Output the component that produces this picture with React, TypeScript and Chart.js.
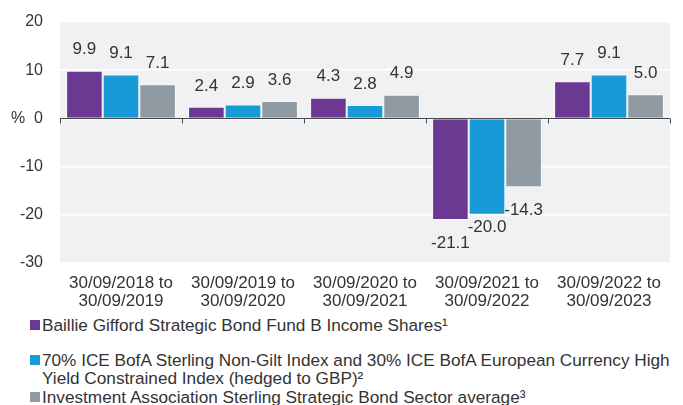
import React, { useEffect, useRef } from "react";
import { Chart, registerables } from "chart.js";

Chart.register(...registerables);

const categories: string[][] = [
  ["30/09/2018 to", "30/09/2019"],
  ["30/09/2019 to", "30/09/2020"],
  ["30/09/2020 to", "30/09/2021"],
  ["30/09/2021 to", "30/09/2022"],
  ["30/09/2022 to", "30/09/2023"],
];

const fundLabel = ["Baillie Gifford Strategic Bond Fund B Income Shares\u00B9"];
const indexLabel = [
  "70% ICE BofA Sterling Non-Gilt Index and 30% ICE BofA European Currency High",
  "Yield Constrained Index (hedged to GBP)\u00B2",
];
const sectorLabel = ["Investment Association Sterling Strategic Bond Sector average\u00B3"];

const fundValues = [9.9, 2.4, 4.3, -21.1, 7.7];
const indexValues = [9.1, 2.9, 2.8, -20.0, 9.1];
const sectorValues = [7.1, 3.6, 4.9, -14.3, 5.0];

const yTicks = [20, 10, 0, -10, -20, -30];

const PURPLE = "#6b3892";
const BLUE = "#179ad7";
const GREY = "#8f9aa2";
const FONT = "'Liberation Sans', Arial, Helvetica, sans-serif";
const TEXT = "#333333";

const bgPlugin = {
  id: "bgPlugin",
  beforeDraw(chart: any) {
    const { ctx, chartArea } = chart;
    ctx.save();
    ctx.fillStyle = "#f0f1f3";
    ctx.fillRect(chartArea.left, chartArea.top, chartArea.right - chartArea.left, chartArea.bottom - chartArea.top);
    ctx.restore();
  },
};

const zeroLinePlugin = {
  id: "zeroLinePlugin",
  afterDatasetsDraw(chart: any) {
    const { ctx, chartArea, scales } = chart;
    const y0 = Math.round(scales.y.getPixelForValue(0)) + 0.5;
    const xs = scales.x;
    const n = categories.length;
    const step = xs.getPixelForValue(1) - xs.getPixelForValue(0);
    ctx.save();
    ctx.strokeStyle = "#4a4a4a";
    ctx.lineWidth = 1;
    ctx.beginPath();
    ctx.moveTo(chartArea.left, y0);
    ctx.lineTo(chartArea.right, y0);
    for (let i = 0; i <= n; i++) {
      const x = Math.round(xs.getPixelForValue(0) - step / 2 + i * step) + 0.5;
      ctx.moveTo(x, y0);
      ctx.lineTo(x, y0 + 5);
    }
    ctx.stroke();
    ctx.restore();
  },
};

const labelPlugin = {
  id: "labelPlugin",
  afterDatasetsDraw(chart: any) {
    const { ctx } = chart;
    ctx.save();
    ctx.font = `17px ${FONT}`;
    ctx.fillStyle = TEXT;
    ctx.textAlign = "center";
    ctx.textBaseline = "middle";
    const nCat = chart.data.labels.length;
    for (let i = 0; i < nCat; i++) {
      let prev: { x: number; y: number; w: number; neg: boolean } | null = null;
      chart.data.datasets.forEach((ds: any, di: number) => {
        const bar: any = chart.getDatasetMeta(di).data[i];
        const v = ds.data[i];
        const text = v.toFixed(1);
        const w = ctx.measureText(text).width;
        const neg = v < 0;
        let y = neg ? bar.y + 23 : bar.y - 21;
        if (prev && neg && prev.neg) {
          const overlapX = prev.x + prev.w / 2 > bar.x - w / 2;
          if (overlapX && Math.abs(prev.y - y) < 16) {
            y = prev.y - 16;
          }
        }
        ctx.fillText(text, bar.x, y);
        prev = { x: bar.x, y, w, neg };
      });
    }
    ctx.restore();
  },
};

function ChartBox() {
  const ref = useRef<HTMLCanvasElement | null>(null);
  useEffect(() => {
    if (!ref.current) return;
    const border = "rgba(255,255,255,0.45)";
    const chart = new Chart(ref.current, {
      type: "bar",
      data: {
        labels: categories as any,
        datasets: [
          { label: fundLabel.join(" "), data: fundValues, backgroundColor: PURPLE, borderColor: border, borderWidth: 1 },
          { label: indexLabel.join(" "), data: indexValues, backgroundColor: BLUE, borderColor: border, borderWidth: 1 },
          { label: sectorLabel.join(" "), data: sectorValues, backgroundColor: GREY, borderColor: border, borderWidth: 1 },
        ],
      },
      options: {
        animation: false,
        responsive: false,
        maintainAspectRatio: false,
        devicePixelRatio: 1,
        layout: { padding: { top: 22, right: 13, left: 0, bottom: 0 } },
        datasets: { bar: { categoryPercentage: 0.9, barPercentage: 1 } },
        plugins: { legend: { display: false }, tooltip: { enabled: false } },
        scales: {
          x: {
            grid: { display: false, drawTicks: false },
            border: { display: false },
            ticks: {
              color: TEXT,
              font: { family: FONT, size: 17, lineHeight: 1.06 },
              padding: 11,
              maxRotation: 0,
              autoSkip: false,
            },
            afterFit: (s: any) => { s.height = 47; },
          },
          y: {
            min: -30,
            max: 20,
            afterBuildTicks: (s: any) => { s.ticks = yTicks.map((v) => ({ value: v })); },
            grid: { color: "#ffffff", lineWidth: 1.5, drawTicks: false },
            border: { display: false },
            ticks: {
              color: TEXT,
              font: { family: FONT, size: 16 },
              padding: 17,
              callback: (v: any) => (Number(v) === 0 ? "%  0" : String(v)),
            },
            afterFit: (s: any) => {
              s.width = 60;
              s.paddingTop = 0;
              s.paddingBottom = 0;
            },
          },
        },
      },
      plugins: [bgPlugin, zeroLinePlugin, labelPlugin],
    });
    return () => chart.destroy();
  }, []);
  return <canvas ref={ref} width={683} height={310} style={{ display: "block", width: 683, height: 310 }} />;
}

const legendItems = [
  { lines: fundLabel, color: PURPLE, top: 316 },
  { lines: indexLabel, color: BLUE, top: 351 },
  { lines: sectorLabel, color: GREY, top: 388 },
];

export default function App() {
  return (
    <div style={{ position: "absolute", left: 0, top: 0, width: 683, height: 405, background: "#fff", overflow: "hidden", fontFamily: FONT }}>
      <ChartBox />
      {legendItems.map((it) => (
        <div key={it.lines[0]} style={{ position: "absolute", left: 30, top: it.top, width: 700, fontSize: 17.2, lineHeight: "18px", color: TEXT, whiteSpace: "nowrap" }}>
          <span style={{ position: "absolute", left: 0, top: 4, width: 10, height: 10, background: it.color }} />
          {it.lines.map((l) => (
            <div key={l} style={{ marginLeft: 12 }}>{l}</div>
          ))}
        </div>
      ))}
    </div>
  );
}
